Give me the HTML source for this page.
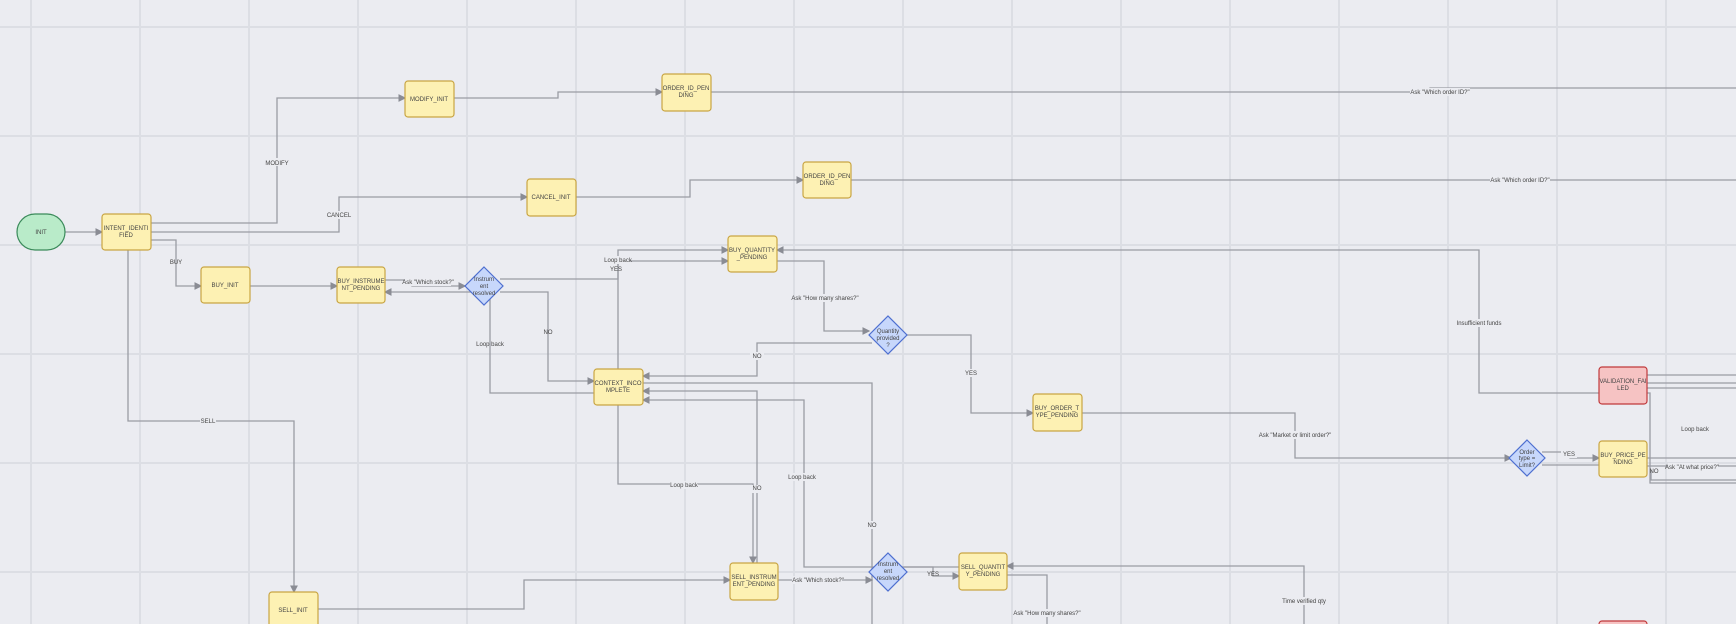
<!DOCTYPE html>
<html><head><meta charset="utf-8"><style>
html,body{margin:0;padding:0;background:#ebecf1;}
svg{display:block;}
text{font-family:"Liberation Sans",sans-serif;font-size:6px;fill:#444;}
.n{fill:#fdf1b3;stroke:#c9a543;stroke-width:1.2;}
.d{fill:#c7d7fb;stroke:#4e6fd0;stroke-width:1.2;}
.r{fill:#f6c3c3;stroke:#c0393b;stroke-width:1.2;}
.e{fill:none;stroke:#9a9ca4;stroke-width:1.3;}
.g{stroke:#dcdee4;stroke-width:2;}
.lb{fill:#ebecf1;}
</style></head><body>
<svg width="1736" height="624" viewBox="0 0 1736 624" xmlns="http://www.w3.org/2000/svg">
<defs><marker id="a" markerWidth="6" markerHeight="6" refX="5" refY="3" orient="auto"><path d="M0,0 L6,3 L0,6 z" fill="#8a8c94"/></marker></defs>
<g class="g">
<line x1="31" y1="0" x2="31" y2="624"/><line x1="140" y1="0" x2="140" y2="624"/><line x1="249" y1="0" x2="249" y2="624"/><line x1="358" y1="0" x2="358" y2="624"/><line x1="467" y1="0" x2="467" y2="624"/><line x1="576" y1="0" x2="576" y2="624"/><line x1="685" y1="0" x2="685" y2="624"/><line x1="794" y1="0" x2="794" y2="624"/><line x1="903" y1="0" x2="903" y2="624"/><line x1="1012" y1="0" x2="1012" y2="624"/><line x1="1121" y1="0" x2="1121" y2="624"/><line x1="1230" y1="0" x2="1230" y2="624"/><line x1="1339" y1="0" x2="1339" y2="624"/><line x1="1448" y1="0" x2="1448" y2="624"/><line x1="1557" y1="0" x2="1557" y2="624"/><line x1="1666" y1="0" x2="1666" y2="624"/>
<line x1="0" y1="27" x2="1736" y2="27"/><line x1="0" y1="136" x2="1736" y2="136"/><line x1="0" y1="245" x2="1736" y2="245"/><line x1="0" y1="354" x2="1736" y2="354"/><line x1="0" y1="463" x2="1736" y2="463"/><line x1="0" y1="572" x2="1736" y2="572"/>
</g>
<g class="e">
<path d="M65,232 H102" marker-end="url(#a)"/>
<path d="M151,223 H277 V98 H405" marker-end="url(#a)"/>
<path d="M151,232 H339 V197 H527" marker-end="url(#a)"/>
<path d="M151,240 H176 V286 H201" marker-end="url(#a)"/>
<path d="M128,250 V421 H294 V592" marker-end="url(#a)"/>
<path d="M454,98 H558 V92 H662" marker-end="url(#a)"/>
<path d="M711,92 H1430 V88 H1736"/>
<path d="M576,197 H690 V180 H803" marker-end="url(#a)"/>
<path d="M851,180 H1736"/>
<path d="M250,286 H337" marker-end="url(#a)"/>
<path d="M385,280 H412 V286 H465" marker-end="url(#a)"/>
<path d="M594,393 H490 V292 H385" marker-end="url(#a)"/>
<path d="M500,292 H548 V381 H594" marker-end="url(#a)"/>
<path d="M500,279 H618 V261 H728" marker-end="url(#a)"/>
<path d="M618,369 V250 H728" marker-end="url(#a)"/>
<path d="M777,261 H824 V331 H869" marker-end="url(#a)"/>
<path d="M872,343 H757 V376 H643" marker-end="url(#a)"/>
<path d="M904,335 H971 V413 H1033" marker-end="url(#a)"/>
<path d="M1082,413 H1295 V458 H1511" marker-end="url(#a)"/>
<path d="M1542,452 H1570 V458 H1599" marker-end="url(#a)"/>
<path d="M1542,465 H1599"/>
<path d="M1599,393 H1479 V250 H777" marker-end="url(#a)"/>
<path d="M1647,375 H1736 M1647,383 H1736 M1647,388 H1736 M1647,393 H1650 V483 H1736"/>
<path d="M1647,458 H1736 M1647,466 H1736 M1651,470 V480 H1736"/>
<path d="M643,383 H872 V624"/>
<path d="M618,405 V484 H753 V563" marker-end="url(#a)"/>
<path d="M757,563 V391 H643" marker-end="url(#a)"/>
<path d="M959,567 H804 V400 H643" marker-end="url(#a)"/>
<path d="M318,609 H524 V580 H730" marker-end="url(#a)"/>
<path d="M778,580 H872" marker-end="url(#a)"/>
<path d="M904,567 H933 V576 H959" marker-end="url(#a)"/>
<path d="M1007,575 H1047 V624"/>
<path d="M1304,624 V566 H1007" marker-end="url(#a)"/>
</g>
<rect x="17" y="214" width="48" height="36" rx="18" fill="#b9ebc9" stroke="#3a8a5a" stroke-width="1.2"/>
<text x="41" y="234" text-anchor="middle">INIT</text>
<g>
<rect class="n" x="102" y="214" width="49" height="36" rx="3"/><text x="126" y="230" text-anchor="middle">INTENT_IDENTI</text><text x="126" y="237" text-anchor="middle">FIED</text>
<rect class="n" x="405" y="81" width="49" height="36" rx="3"/><text x="429" y="101" text-anchor="middle">MODIFY_INIT</text>
<rect class="n" x="662" y="74" width="49" height="37" rx="3"/><text x="686" y="90" text-anchor="middle">ORDER_ID_PEN</text><text x="686" y="97" text-anchor="middle">DING</text>
<rect class="n" x="527" y="179" width="49" height="37" rx="3"/><text x="551" y="199" text-anchor="middle">CANCEL_INIT</text>
<rect class="n" x="803" y="162" width="48" height="36" rx="3"/><text x="827" y="178" text-anchor="middle">ORDER_ID_PEN</text><text x="827" y="185" text-anchor="middle">DING</text>
<rect class="n" x="728" y="236" width="49" height="36" rx="3"/><text x="752" y="252" text-anchor="middle">BUY_QUANTITY</text><text x="752" y="259" text-anchor="middle">_PENDING</text>
<rect class="n" x="201" y="267" width="49" height="36" rx="3"/><text x="225" y="287" text-anchor="middle">BUY_INIT</text>
<rect class="n" x="337" y="267" width="48" height="36" rx="3"/><text x="361" y="283" text-anchor="middle">BUY_INSTRUME</text><text x="361" y="290" text-anchor="middle">NT_PENDING</text>
<rect class="n" x="594" y="369" width="49" height="36" rx="3"/><text x="618" y="385" text-anchor="middle">CONTEXT_INCO</text><text x="618" y="392" text-anchor="middle">MPLETE</text>
<rect class="n" x="1033" y="394" width="49" height="37" rx="3"/><text x="1057" y="410" text-anchor="middle">BUY_ORDER_T</text><text x="1057" y="417" text-anchor="middle">YPE_PENDING</text>
<rect class="r" x="1599" y="367" width="48" height="37" rx="3"/><text x="1623" y="383" text-anchor="middle">VALIDATION_FAI</text><text x="1623" y="390" text-anchor="middle">LED</text>
<rect class="n" x="1599" y="441" width="48" height="36" rx="3"/><text x="1623" y="457" text-anchor="middle">BUY_PRICE_PE</text><text x="1623" y="464" text-anchor="middle">NDING</text>
<rect class="n" x="730" y="563" width="48" height="37" rx="3"/><text x="754" y="579" text-anchor="middle">SELL_INSTRUM</text><text x="754" y="586" text-anchor="middle">ENT_PENDING</text>
<rect class="n" x="959" y="553" width="48" height="37" rx="3"/><text x="983" y="569" text-anchor="middle">SELL_QUANTIT</text><text x="983" y="576" text-anchor="middle">Y_PENDING</text>
<rect class="n" x="269" y="592" width="49" height="40" rx="3"/><text x="293" y="612" text-anchor="middle">SELL_INIT</text>
<rect class="r" x="1599" y="621" width="48" height="20" rx="3"/>
</g>
<g>
<polygon class="d" points="484,267 503,286 484,305 465,286"/><text x="484" y="281" text-anchor="middle">Instrum</text><text x="484" y="288" text-anchor="middle">ent</text><text x="484" y="295" text-anchor="middle">resolved</text>
<polygon class="d" points="888,316 907,335 888,354 869,335"/><text x="888" y="333" text-anchor="middle">Quantity</text><text x="888" y="340" text-anchor="middle">provided</text><text x="888" y="347" text-anchor="middle">?</text>
<polygon class="d" points="1527,440 1545,458 1527,476 1509,458"/><text x="1527" y="454" text-anchor="middle">Order</text><text x="1527" y="460" text-anchor="middle">type =</text><text x="1527" y="467" text-anchor="middle">Limit?</text>
<polygon class="d" points="888,553 907,572 888,591 869,572"/><text x="888" y="566" text-anchor="middle">Instrum</text><text x="888" y="573" text-anchor="middle">ent</text><text x="888" y="580" text-anchor="middle">resolved</text>
</g>
<g text-anchor="middle">
<rect class="lb" x="265" y="158" width="24" height="8"/><text x="277" y="165">MODIFY</text>
<rect class="lb" x="326" y="211" width="26" height="8"/><text x="339" y="217">CANCEL</text>
<text x="176" y="264">BUY</text>
<rect class="lb" x="200" y="417" width="16" height="8"/><text x="208" y="423">SELL</text>
<rect class="lb" x="1410" y="88" width="60" height="8"/><text x="1440" y="94">Ask "Which order ID?"</text>
<rect class="lb" x="1490" y="176" width="60" height="8"/><text x="1520" y="182">Ask "Which order ID?"</text>
<rect class="lb" x="405" y="278" width="46" height="8"/><text x="428" y="284">Ask "Which stock?"</text>
<text x="490" y="346">Loop back</text>
<text x="548" y="334">NO</text>
<rect class="lb" x="606" y="256" width="24" height="8"/><text x="618" y="262">Loop back</text>
<text x="616" y="271">YES</text>
<rect class="lb" x="796" y="294" width="58" height="8"/><text x="825" y="300">Ask "How many shares?"</text>
<rect class="lb" x="750" y="352" width="14" height="8"/><text x="757" y="358">NO</text>
<rect class="lb" x="963" y="369" width="16" height="8"/><text x="971" y="375">YES</text>
<rect class="lb" x="1262" y="431" width="66" height="8"/><text x="1295" y="437">Ask "Market or limit order?"</text>
<rect class="lb" x="1561" y="450" width="16" height="8"/><text x="1569" y="456">YES</text>
<rect class="lb" x="1457" y="319" width="44" height="8"/><text x="1479" y="325">Insufficient funds</text>
<text x="1695" y="431">Loop back</text>
<rect class="lb" x="1668" y="463" width="50" height="8"/><text x="1692" y="469">Ask "At what price?"</text>
<text x="1654" y="473">NO</text>
<rect class="lb" x="670" y="481" width="28" height="8"/><text x="684" y="487">Loop back</text>
<rect class="lb" x="749" y="485" width="14" height="8"/><text x="757" y="490">NO</text>
<rect class="lb" x="790" y="473" width="28" height="8"/><text x="802" y="479">Loop back</text>
<rect class="lb" x="865" y="521" width="14" height="8"/><text x="872" y="527">NO</text>
<rect class="lb" x="792" y="576" width="50" height="8"/><text x="818" y="582">Ask "Which stock?"</text>
<text x="933" y="576">YES</text>
<rect class="lb" x="1018" y="609" width="58" height="8"/><text x="1047" y="615">Ask "How many shares?"</text>
<rect class="lb" x="1278" y="597" width="52" height="8"/><text x="1304" y="603">Time verified qty</text>
</g>
</svg>
</body></html>
